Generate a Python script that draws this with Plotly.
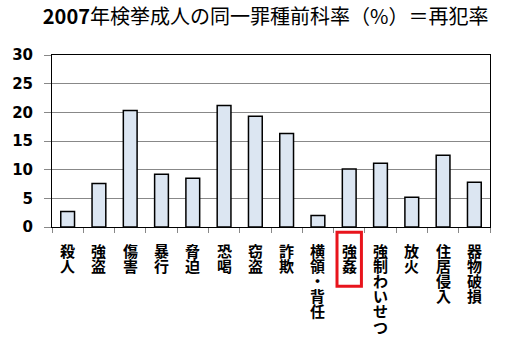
import plotly.graph_objects as go

categories = ["殺人", "強盗", "傷害", "暴行", "脅迫", "恐喝", "窃盗", "詐欺",
              "横領・背任", "強姦", "強制わいせつ", "放火", "住居侵入", "器物破損"]
values = [2.7, 7.6, 20.3, 9.2, 8.5, 21.2, 19.3, 16.3, 2.0, 10.1, 11.1, 5.2, 12.5, 7.8]
y_ticks = [0, 5, 10, 15, 20, 25, 30]
highlight = "強姦"

fig = go.Figure()
fig.add_trace(go.Bar(
    x=categories, y=values, width=0.44,
    marker=dict(color="#dce6f2", line=dict(color="#000000", width=1.5)),
))

# vertical (one character per line) category labels
pitch = 15.2
for c in categories:
    for k, ch in enumerate(c):
        fig.add_annotation(
            x=c, xref="x", y=0, yref="paper", yanchor="middle", xanchor="center",
            yshift=-(23 + k * pitch), text=ch, showarrow=False,
            font=dict(family="Noto Sans CJK JP", size=15, color="#000", weight="bold"),
        )

hi = categories.index(highlight)
fig.add_shape(type="rect", xref="x", yref="paper",
              x0=hi - 0.39, x1=hi + 0.39, y0=-0.03, y1=-0.345,
              line=dict(color="#e8141c", width=3), fillcolor="rgba(0,0,0,0)")

fig.update_layout(
    width=505, height=345,
    margin=dict(l=48, r=15, t=55, b=118),
    paper_bgcolor="white", plot_bgcolor="white",
    showlegend=False,
    bargap=0.5,
    title=dict(text="<b>2007</b>年検挙成人の同一罪種前科率（%）＝再犯率",
               x=0.526, xanchor="center", y=0.95, yanchor="middle",
               font=dict(family="Noto Sans CJK JP", size=20, color="#000")),
    font=dict(family="Noto Sans CJK JP", color="#000"),
)
fig.update_xaxes(
    tickmode="array", tickvals=categories, showticklabels=False,
    showline=True, linecolor="#000", linewidth=1, mirror=True,
    ticks="outside", tickson="boundaries", ticklen=5, tickcolor="#888",
    showgrid=False,
)
fig.update_yaxes(
    range=[0, 30], tickvals=y_ticks,
    tickfont=dict(family="DejaVu Sans", size=15, color="#000", weight="bold"),
    showgrid=True, gridcolor="#888", gridwidth=1,
    showline=True, linecolor="#000", linewidth=1, mirror=True,
    ticks="outside", ticklen=7, tickcolor="#888", ticklabelstandoff=8,
    zeroline=False,
)

fig.write_html("out.html")
